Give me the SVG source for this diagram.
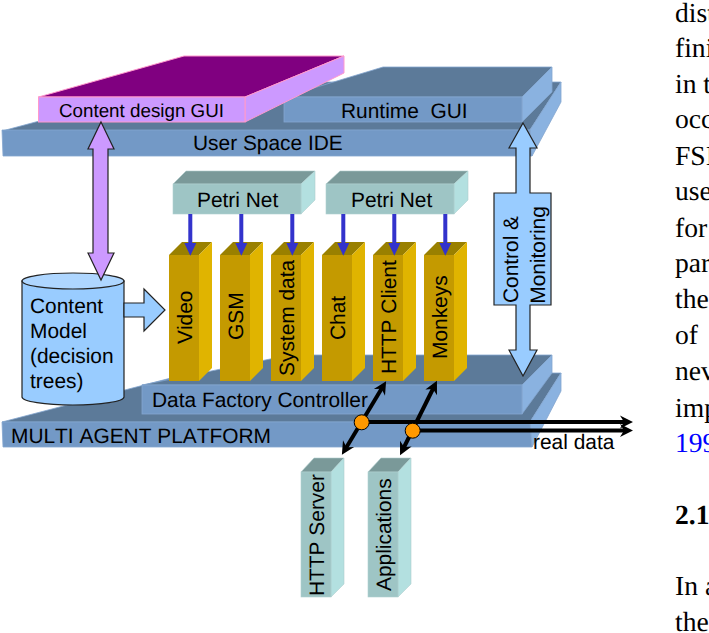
<svg xmlns="http://www.w3.org/2000/svg" width="709" height="633" viewBox="0 0 709 633">
<style>
text{font-family:"Liberation Sans",Arial,sans-serif;font-size:20.9px;fill:#000;white-space:pre;font-kerning:none;text-rendering:geometricPrecision}
.body{font-family:"Liberation Serif","Times New Roman",serif;font-size:27.6px}
.f{fill:#7399c6}.t{fill:#5c7a99}.s{fill:#8ab2e0}
.plat polygon,.plat rect{stroke:#84a6cf;stroke-width:.8}
.yf{fill:#c49a00}.yt{fill:#998000}.ys{fill:#e0b400}
.cf{fill:#9ec5c5}.ct{fill:#7a9999}.cs{fill:#b3e0e0}
.teal polygon,.teal rect{stroke:#b0cfcf;stroke-width:.6}
.blk{fill:none;stroke:#000;stroke-width:4}
.ba{stroke:#222;stroke-width:1.2;stroke-linejoin:miter}
.dot{fill:#ff9900;stroke:#000;stroke-width:1}
</style>
<defs>
<marker id="ah" markerUnits="userSpaceOnUse" markerWidth="16" markerHeight="14" refX="5" refY="7" orient="auto-start-reverse" overflow="visible"><path d="M0 .5L13 7L0 13.5L4 7Z" fill="#000"/></marker>
</defs>

<g id="multi-agent-platform" class="plat">
<polygon class="t" points="2,422 190,373 561,373 530,422"/>
<polygon class="s" points="530,422 561,373 561,391 532,447"/>
<polygon class="f" points="2,422 530,422 532,447 3,447"/>
<text x="11" y="443">MULTI AGENT PLATFORM</text>
</g>
<g id="data-factory-controller" class="plat">
<polygon class="t" points="142,385 290,355 552,355 522,385"/>
<polygon class="s" points="522,385 552,355 552,373 522,414"/>
<rect class="f" x="142" y="385" width="380" height="29"/>
<text x="152" y="407">Data Factory Controller</text>
</g>
<g id="user-space-ide" class="plat">
<polygon class="t" points="2,131 185,82 561,82 530,130"/>
<polygon class="s" points="530,130 561,82 561,102 532,156"/>
<polygon class="f" points="2,130 530,130 532,156 3,156"/>
<text x="193" y="150">User Space IDE</text>
</g>
<g id="runtime-gui" class="plat">
<polygon class="t" points="284,97 383,67 552,67 522,97"/>
<polygon class="s" points="522,97 552,67 552,92 522,122"/>
<rect class="f" x="284" y="97" width="238" height="25"/>
<text x="341" y="118">Runtime  GUI</text>
</g>
<g id="content-design-gui" stroke="#ff99cc" stroke-width="1">
<polygon fill="#800080" points="38.5,97 184,56 344,56 245,97"/>
<polygon fill="#cc99ff" points="245,97 344,56 344,73 245,122"/>
<rect fill="#cc99ff" x="38.5" y="97" width="206.5" height="25"/>
<text x="59" y="117" stroke="none" style="font-size:18.8px">Content design GUI</text>
</g>

<g id="petri-net-1" class="teal">
<polygon class="ct" points="173,184 186,171 315,171 301,184"/>
<polygon class="cs" points="301,184 315,171 315,200 301,214"/>
<rect class="cf" x="173" y="184" width="128" height="30"/>
<text x="197" y="207">Petri Net</text>
</g>
<g id="petri-net-2" class="teal">
<polygon class="ct" points="326,184 340,171 468,171 454,184"/>
<polygon class="cs" points="454,184 468,171 468,200 454,214"/>
<rect class="cf" x="326" y="184" width="128" height="30"/>
<text x="351" y="207">Petri Net</text>
</g>

<g id="video">
<polygon class="yt" points="169,255 182,242 212,242 199,255"/><polygon class="ys" points="199,255 212,242 212,368 199,381"/><rect class="yf" x="169" y="255" width="30" height="126"/>
<text transform="translate(192 344) rotate(-90)">Video</text>
</g>
<g id="gsm">
<polygon class="yt" points="220,255 233,242 263,242 250,255"/><polygon class="ys" points="250,255 263,242 263,368 250,381"/><rect class="yf" x="220" y="255" width="30" height="126"/>
<text transform="translate(243 340) rotate(-90)">GSM</text>
</g>
<g id="system-data">
<polygon class="yt" points="271,255 284,242 314,242 301,255"/><polygon class="ys" points="301,255 314,242 314,368 301,381"/><rect class="yf" x="271" y="255" width="30" height="126"/>
<text transform="translate(294 376) rotate(-90)">System data</text>
</g>
<g id="chat">
<polygon class="yt" points="322,255 335,242 365,242 352,255"/><polygon class="ys" points="352,255 365,242 365,368 352,381"/><rect class="yf" x="322" y="255" width="30" height="126"/>
<text transform="translate(345 340) rotate(-90)">Chat</text>
</g>
<g id="http-client">
<polygon class="yt" points="373,255 386,242 416,242 403,255"/><polygon class="ys" points="403,255 416,242 416,368 403,381"/><rect class="yf" x="373" y="255" width="30" height="126"/>
<text transform="translate(396 374) rotate(-90)">HTTP Client</text>
</g>
<g id="monkeys">
<polygon class="yt" points="424,255 437,242 467,242 454,255"/><polygon class="ys" points="454,255 467,242 467,368 454,381"/><rect class="yf" x="424" y="255" width="30" height="126"/>
<text transform="translate(447 359) rotate(-90)">Monkeys</text>
</g>

<g id="http-server" class="teal">
<polygon class="ct" points="301,472 314,458 344,458 331,472"/><polygon class="cs" points="331,472 344,458 344,584 331,597"/><rect class="cf" x="301" y="472" width="30" height="125"/>
<text transform="translate(324 596) rotate(-90)">HTTP Server</text>
</g>
<g id="applications" class="teal">
<polygon class="ct" points="368,472 381,458 411,458 398,472"/><polygon class="cs" points="398,472 411,458 411,584 398,597"/><rect class="cf" x="368" y="472" width="30" height="125"/>
<text transform="translate(391 591) rotate(-90)">Applications</text>
</g>

<g id="content-model">
<path d="M22 281V397A51 8 0 0 0 124 397V281Z" fill="#99ccff" stroke="#222" stroke-width="1.2"/>
<ellipse cx="73" cy="281" rx="51" ry="8" fill="#aed6ff" stroke="#222" stroke-width="1.2"/>
<text x="30" y="313">Content</text><text x="30" y="338">Model</text><text x="30" y="363">(decision</text><text x="30" y="388">trees)</text>
</g>

<g id="connectors">
<path fill="#3333cc" d="M188.300 214h4v29h4l-6 12.700-6-12.700h4zM239.300 214h4v29h4l-6 12.700-6-12.700h4zM290.300 214h4v29h4l-6 12.700-6-12.700h4zM341.300 214h4v29h4l-6 12.700-6-12.700h4zM392.300 214h4v29h4l-6 12.700-6-12.700h4zM443.300 214h4v29h4l-6 12.700-6-12.700h4z"/>
<path class="ba" fill="#cc99ff" d="M101 122L114 149H108V253H114L101 280L88 253H93V149H88Z"/>
<path class="ba" fill="#99ccff" d="M124 303H144V289L165 310L144 331V317H124Z"/>
<path class="ba" fill="#99ccff" d="M523 123L537 148H530V193H551V305H530V350H537L523 376L509 350H516V305H494V193H516V148H509Z"/>
<line class="blk" x1="362" y1="422" x2="625" y2="422" marker-end="url(#ah)"/>
<line class="blk" x1="413" y1="430.500" x2="625" y2="430.500" marker-end="url(#ah)"/>
<line class="blk" x1="382" y1="388" x2="346" y2="448" marker-start="url(#ah)" marker-end="url(#ah)"/>
<line class="blk" x1="433.400" y1="388" x2="403.600" y2="448" marker-start="url(#ah)" marker-end="url(#ah)"/>
<circle class="dot" cx="361.700" cy="422.300" r="7.500"/>
<circle class="dot" cx="412.700" cy="430.700" r="7.500"/>
</g>
<g id="control-monitoring-label">
<text transform="translate(518 259.500) rotate(-90)" text-anchor="middle">Control &amp;</text>
<text transform="translate(545 255) rotate(-90)" text-anchor="middle">Monitoring</text>
</g>
<g id="real-data-label"><text x="533" y="449">real data</text></g>

<g id="page-text">
<text class="body" x="675" y="22">dist</text>
<text class="body" x="675" y="57">fini</text>
<text class="body" x="675" y="93">in t</text>
<text class="body" x="675" y="128">occ</text>
<text class="body" x="675" y="165">FSI</text>
<text class="body" x="675" y="200">use</text>
<text class="body" x="675" y="237">for</text>
<text class="body" x="675" y="272">par</text>
<text class="body" x="675" y="308">the</text>
<text class="body" x="675" y="344">of</text>
<text class="body" x="675" y="380">nev</text>
<text class="body" x="675" y="417">imp</text>
<text class="body" x="675" y="452" style="fill:#0000ff">199</text>
<text class="body" x="675" y="524" style="font-weight:bold">2.1</text>
<text class="body" x="675" y="595">In a</text>
<text class="body" x="675" y="631">the</text>
</g>
</svg>
